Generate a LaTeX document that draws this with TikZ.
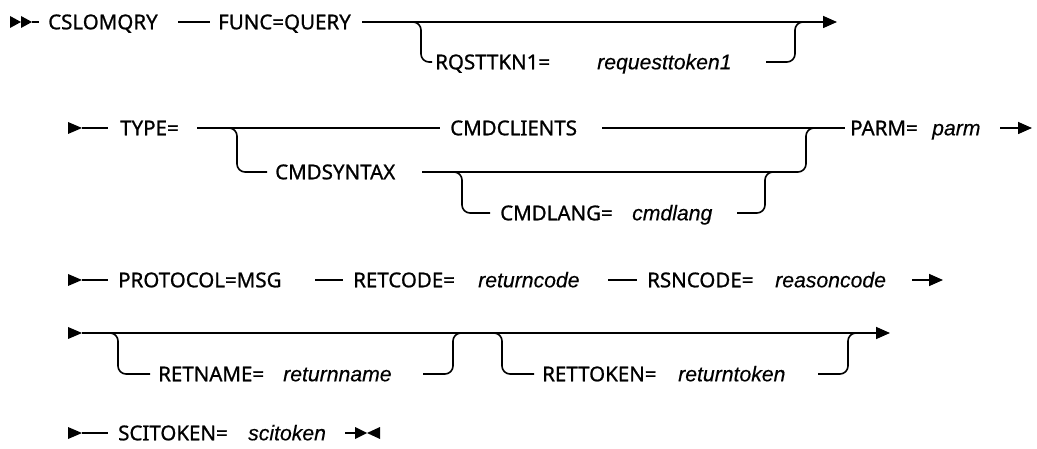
\documentclass[tikz,border=0pt]{standalone}
\usepackage{fontspec}
\setmainfont{Noto Sans}[FakeBold=0.9]
\newfontfamily\varfont{Liberation Sans}[FakeBold=0.3]
\usetikzlibrary{arrows.meta}
\begin{document}
\begin{tikzpicture}[x=1pt,y=-1pt,
  kw/.style={anchor=west, inner sep=0pt, text height=14.6pt, text depth=0pt, font=\fontsize{20.5}{24}\selectfont\bfseries},
  var/.style={anchor=west, inner sep=0pt, text height=14.6pt, text depth=0pt, font=\fontsize{21.2}{24}\selectfont\varfont\itshape},
  rail/.style={line width=1.6pt, rounded corners=8pt},
  tipped/.style={rail, -{Triangle[length=14pt,width=12pt]}},
  head/.style={fill=black}]
\useasboundingbox (0,0) rectangle (1037,449);
% ---------- row 1 ----------
\fill[head] (10,16) -- (21,22) -- (10,28) -- cycle;
\fill[head] (21,16) -- (32,22) -- (21,28) -- cycle;
\coordinate (r1s) at (32,22);
\coordinate (r1a) at (39,22);
\node[kw] (cs) at (48,22) {CSLOMQRY};
\coordinate (r1b) at (178,22);
\coordinate (r1c) at (210,22);
\node[kw] (fq) at (218,22) {FUNC=QUERY};
\coordinate (r1d) at (362,22);
\coordinate (r1e) at (837,22);
\node[kw] (rq) at (435,62) {RQSTTKN1=};
\node[var] (rqv) at (597,62) {requesttoken1};
\draw[rail] (r1s) -- (r1a);
\draw[rail] (r1b) -- (r1c);
\draw[tipped] (r1d) -- (r1e);
\draw[rail] (405,22) -- (421,22) -- (421,62) -- ([xshift=-3pt]rq.west);
\draw[rail] (766,62) -- (795,62) -- (795,22) -- (810,22);
% ---------- row 2 ----------
\fill[head] (68,122) -- (82,128) -- (68,134) -- cycle;
\coordinate (r2a) at (108,128);
\node[kw] (ty) at (120,128) {TYPE=};
\coordinate (r2b) at (197,128);
\coordinate (r2c) at (440,128);
\node[kw] (cc) at (450,128) {CMDCLIENTS};
\coordinate (r2d) at (602,128);
\coordinate (r2e) at (845,128);
\node[kw] (pa) at (850,128) {PARM=};
\node[var] (pav) at (932,128) {parm};
\coordinate (r2f) at (1000,128);
\coordinate (r2g) at (1032,128);
\node[kw] (cs2) at (275,172) {CMDSYNTAX};
\node[kw] (cl) at (500,213) {CMDLANG=};
\node[var] (clv) at (632,213) {cmdlang};
\draw[rail] (82,128) -- (r2a);
\draw[rail] (r2b) -- (r2c);
\draw[rail] (r2d) -- (r2e);
\draw[tipped] (r2f) -- (r2g);
\draw[rail] (229,128) -- (237,128) -- (237,172) -- ([xshift=-8pt]cs2.west);
\draw[rail] (422,172) -- (806,172) -- (806,128) -- (814,128);
\draw[rail] (445,172) -- (462,172) -- (462,213) -- ([xshift=-10pt]cl.west);
\draw[rail] (737,213) -- (765,213) -- (765,172) -- (775,172);
% ---------- row 3 ----------
\fill[head] (68,274) -- (82,280) -- (68,286) -- cycle;
\coordinate (r3a) at (108,280);
\node[kw] (pr) at (118,280) {PROTOCOL=MSG};
\coordinate (r3b) at (315,280);
\coordinate (r3c) at (343,280);
\node[kw] (rc) at (353,280) {RETCODE=};
\node[var] (rcv) at (478,280) {returncode};
\coordinate (r3d) at (608,280);
\coordinate (r3e) at (637,280);
\node[kw] (rs) at (647,280) {RSNCODE=};
\node[var] (rsv) at (775,280) {reasoncode};
\coordinate (r3f) at (912,280);
\coordinate (r3g) at (943,280);
\draw[rail] (82,280) -- (r3a);
\draw[rail] (r3b) -- (r3c);
\draw[rail] (r3d) -- (r3e);
\draw[tipped] (r3f) -- (r3g);
% ---------- row 4 ----------
\fill[head] (68,327) -- (82,333) -- (68,339) -- cycle;
\coordinate (r4a) at (82,333);
\coordinate (r4b) at (890,333);
\node[kw] (rn) at (158,374) {RETNAME=};
\node[var] (rnv) at (283,374) {returnname};
\node[kw] (rt) at (542,374) {RETTOKEN=};
\node[var] (rtv) at (678,374) {returntoken};
\draw[tipped] (r4a) -- (r4b);
\draw[rail] (108,333) -- (118,333) -- (118,374) -- (150,374);
\draw[rail] (423,374) -- (453,374) -- (453,333) -- (465,333);
\draw[rail] (485,333) -- (502,333) -- (502,374) -- (534,374);
\draw[rail] (818,374) -- (848,374) -- (848,333) -- (860,333);
% ---------- row 5 ----------
\fill[head] (68,427) -- (82,433) -- (68,439) -- cycle;
\coordinate (r5a) at (108,433);
\node[kw] (sc) at (118,433) {SCITOKEN=};
\node[var] (scv) at (248,433) {scitoken};
\coordinate (r5b) at (345,433);
\coordinate (r5c) at (356,433);
\draw[rail] (82,433) -- (r5a);
\draw[rail] (r5b) -- (r5c);
\fill[head] (355,427) -- (367,433) -- (355,439) -- cycle;
\fill[head] (380,427) -- (367,433) -- (380,439) -- cycle;
\end{tikzpicture}
\end{document}
